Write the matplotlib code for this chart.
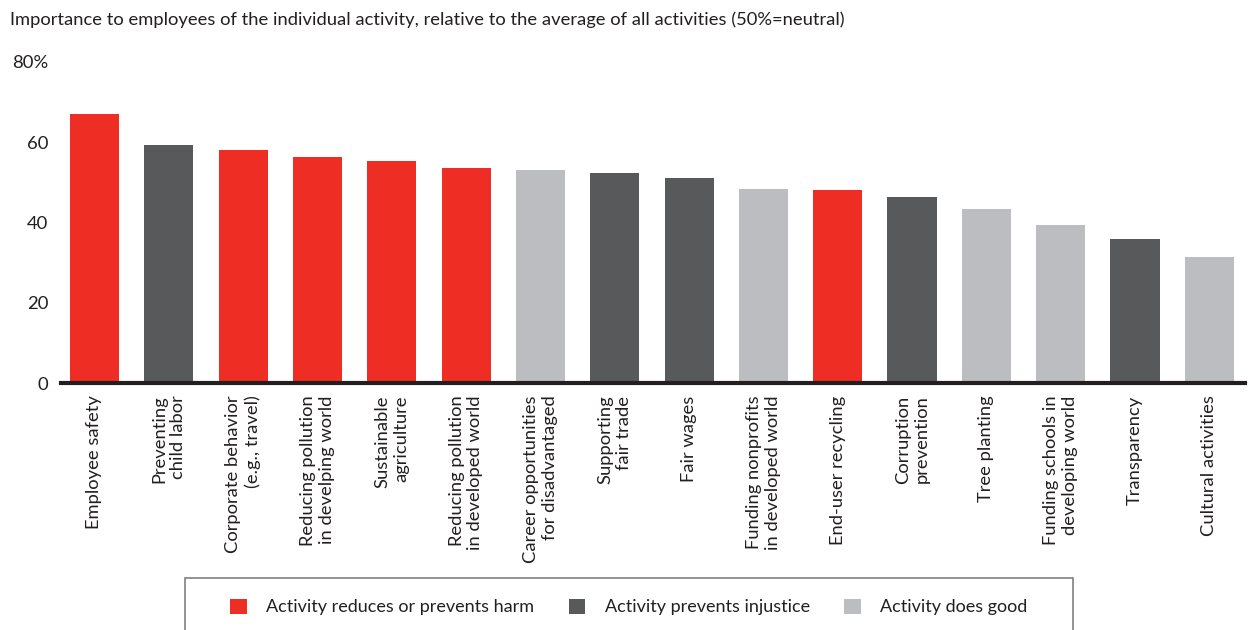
import matplotlib
matplotlib.use('Agg')
import matplotlib.pyplot as plt
from matplotlib.patches import Patch, Rectangle
from matplotlib.ticker import FuncFormatter

plt.rcParams['font.family'] = ['Lato', 'DejaVu Sans']

# data
activities = [
    'Employee safety',
    'Preventing\nchild labor',
    'Corporate behavior\n(e.g., travel)',
    'Reducing pollution\nin develping world',
    'Sustainable\nagriculture',
    'Reducing pollution\nin developed world',
    'Career opportunities\nfor disadvantaged',
    'Supporting\nfair trade',
    'Fair wages',
    'Funding nonprofits\nin developed world',
    'End-user recycling',
    'Corruption\nprevention',
    'Tree planting',
    'Funding schools in\ndeveloping world',
    'Transparency',
    'Cultural activities',
]
importance = [67.0, 59.3, 58.1, 56.3, 55.3, 53.6, 53.2, 52.4,
              51.2, 48.4, 48.1, 46.3, 43.3, 39.3, 35.8, 31.3]
category = ['harm', 'injustice', 'harm', 'harm', 'harm', 'harm', 'good', 'injustice',
            'injustice', 'good', 'harm', 'injustice', 'good', 'good', 'injustice', 'good']

cat_colors = {'harm': '#EE2E24', 'injustice': '#58595B', 'good': '#BCBDC0'}
cat_labels = {'harm': 'Activity reduces or prevents harm',
              'injustice': 'Activity prevents injustice',
              'good': 'Activity does good'}
text_color = '#231F20'

fig = plt.figure(figsize=(12.48, 6.3), dpi=100)
ax = fig.add_axes([61 / 1248, 1 - 383 / 630, (1245 - 61) / 1248, (383 - 62) / 630])

x = list(range(len(activities)))
ax.bar(x, importance, width=0.66, color=[cat_colors[c] for c in category], zorder=2)

ax.set_xlim(-0.45, len(activities) - 1 + 0.48)
ax.set_ylim(0, 80)
ax.set_yticks([0, 20, 40, 60, 80])
ax.yaxis.set_major_formatter(FuncFormatter(lambda v, p: f'{v:.0f}%' if v == 80 else f'{v:.0f}'))
ax.tick_params(axis='y', length=0, pad=9, labelsize=13.3, labelcolor=text_color)
ax.tick_params(axis='x', length=0, pad=9)
ax.set_xticks(x)
ax.set_xticklabels(activities, rotation=90, ha='center', va='top',
                   multialignment='right', fontsize=13.2, color=text_color)

for s in ['top', 'right', 'left']:
    ax.spines[s].set_visible(False)
ax.spines['bottom'].set_linewidth(3)
ax.spines['bottom'].set_color(text_color)
ax.spines['bottom'].set_zorder(3)

fig.text(10 / 1248, 1 - 20 / 630, 'Importance to employees of the individual activity, '
         'relative to the average of all activities (50%=neutral)',
         fontsize=13.2, color=text_color, ha='left', va='center')

# legend box (runs off the bottom edge like the original)
fig.patches.append(Rectangle((185 / 1248, -0.05), (1073 - 185) / 1248, 0.05 + (630 - 578) / 630,
                             transform=fig.transFigure, fill=False,
                             edgecolor='#808080', linewidth=1.2))
handles = [Patch(facecolor=cat_colors[k], label=cat_labels[k]) for k in ['harm', 'injustice', 'good']]
fig.legend(handles=handles, loc='center', bbox_to_anchor=(629 / 1248, 1 - 607 / 630),
           ncol=3, frameon=False, fontsize=13, handlelength=0.9, handleheight=0.9,
           handletextpad=1.1, columnspacing=1.9, labelcolor=text_color)

fig.savefig('out.png', dpi=100)
